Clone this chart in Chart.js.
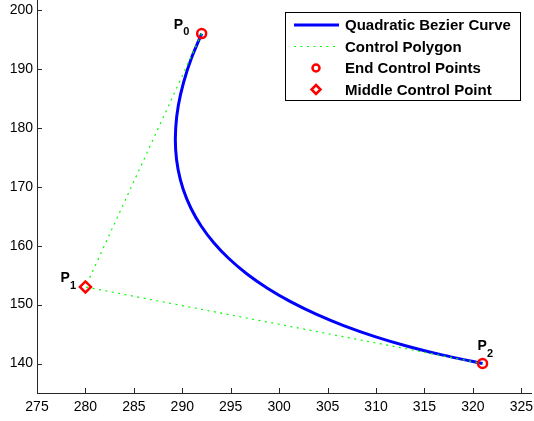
<!DOCTYPE html>
<html>
<head>
<meta charset="utf-8">
<script src="https://cdn.jsdelivr.net/npm/chart.js@4/dist/chart.umd.min.js"></script>
<style>
  body { margin: 0; background: #fff; }
  canvas { display: block; }
</style>
</head>
<body>
<canvas id="bezier" width="534" height="421"></canvas>
<script>
// points
var curveX = [292, 290.93, 290.13, 289.59, 289.32, 289.31, 289.57, 290.09, 290.88, 291.93, 293.25,
              294.83, 296.68, 298.79, 301.17, 303.81, 306.72, 309.89, 313.33, 317.03, 321];
var curveY = [196, 191.78, 187.7, 183.78, 180.0, 176.38, 172.9, 169.58, 166.4, 163.38, 160.5,
              157.78, 155.2, 152.78, 150.5, 148.38, 146.4, 144.58, 142.9, 141.38, 140];

// control points P0, P1, P2
var ctrlX = [292, 280, 321];
var ctrlY = [196, 153, 140];
var ctrlNames = ['0', '1', '2'];

var seriesLabels = ['Quadratic Bezier Curve', 'Control Polygon', 'End Control Points', 'Middle Control Point'];

var xTicks = [275, 280, 285, 290, 295, 300, 305, 310, 315, 320, 325];
var yTicks = [140, 150, 160, 170, 180, 190, 200];

function toPoints(xs, ys) {
    var pts = [];
    for (var i = 0; i < xs.length; i++) pts.push({ x: xs[i], y: ys[i] });
    return pts;
}

var BLUE = 'rgb(0,0,255)', GREEN = 'rgb(0,255,0)', RED = 'rgb(255,0,0)', AXIS = '#262626';
var FONT = '"Liberation Sans", Arial, Helvetica, sans-serif';

// label offsets (px) of "P" and its subscript from each control point
var labelOffsets = [
    { px: -28, py: -5, sx: -18.5, sy: 1.8 },
    { px: -25, py: -5.4, sx: -15.5, sy: 1.6 },
    { px: -5, py: -13.3, sx: 4.5, sy: -6.4 }
];

var extrasPlugin = {
    id: 'extras',
    afterDatasetsDraw: function(chart) {
        var ctx = chart.ctx, xs = chart.scales.x, ys = chart.scales.y, area = chart.chartArea;
        ctx.save();
        // inward ticks
        ctx.strokeStyle = AXIS;
        ctx.lineWidth = 1;
        ctx.beginPath();
        xTicks.forEach(function(v) {
            var px = Math.round(xs.getPixelForValue(v)) + 0.5;
            ctx.moveTo(px, area.bottom);
            ctx.lineTo(px, area.bottom - 5);
        });
        yTicks.forEach(function(v) {
            var py = Math.round(ys.getPixelForValue(v)) + 0.5;
            ctx.moveTo(area.left, py);
            ctx.lineTo(area.left + 5, py);
        });
        ctx.stroke();

        // P0, P1, P2 labels
        ctx.fillStyle = '#000';
        ctx.textBaseline = 'alphabetic';
        ctx.textAlign = 'left';
        for (var i = 0; i < ctrlX.length; i++) {
            var cx = xs.getPixelForValue(ctrlX[i]), cy = ys.getPixelForValue(ctrlY[i]);
            var o = labelOffsets[i];
            ctx.font = 'bold 14px ' + FONT;
            ctx.fillText('P', cx + o.px, cy + o.py);
            ctx.font = 'bold 11px ' + FONT;
            ctx.fillText(ctrlNames[i], cx + o.sx, cy + o.sy);
        }

        // legend box
        var bx = 285.5, by = 12.5, bw = 235, bh = 88;
        ctx.fillStyle = '#fff';
        ctx.fillRect(bx, by, bw, bh);
        ctx.strokeStyle = '#000';
        ctx.lineWidth = 1;
        ctx.strokeRect(bx, by, bw, bh);
        var rows = [30, 51.5, 73, 94.5];
        ctx.font = 'bold 15px ' + FONT;
        for (var r = 0; r < seriesLabels.length; r++) {
            var yy = rows[r] - 5;
            ctx.save();
            if (r === 0) {
                ctx.strokeStyle = BLUE; ctx.lineWidth = 3;
                ctx.beginPath(); ctx.moveTo(294, yy); ctx.lineTo(339, yy); ctx.stroke();
            } else if (r === 1) {
                ctx.strokeStyle = GREEN; ctx.lineWidth = 1.2; ctx.setLineDash([2, 4.5]);
                ctx.beginPath(); ctx.moveTo(294, yy); ctx.lineTo(339, yy); ctx.stroke();
            } else if (r === 2) {
                ctx.strokeStyle = RED; ctx.lineWidth = 2.5;
                ctx.beginPath(); ctx.arc(316, yy, 3.5, 0, Math.PI * 2); ctx.stroke();
            } else {
                ctx.strokeStyle = RED; ctx.lineWidth = 2.5;
                ctx.beginPath();
                ctx.moveTo(316, yy - 4.5); ctx.lineTo(320.5, yy); ctx.lineTo(316, yy + 4.5); ctx.lineTo(311.5, yy);
                ctx.closePath(); ctx.stroke();
            }
            ctx.restore();
            ctx.fillStyle = '#000';
            ctx.fillText(seriesLabels[r], 345, rows[r]);
        }
        ctx.restore();
    }
};

function noPadding(s) {
    s.paddingLeft = 0; s.paddingRight = 0; s.paddingTop = 0; s.paddingBottom = 0;
}

var ctx = document.getElementById('bezier').getContext('2d');
var chart = new Chart(ctx, {
    type: 'scatter',
    data: {
        datasets: [
            { label: seriesLabels[2], data: toPoints([ctrlX[0], ctrlX[2]], [ctrlY[0], ctrlY[2]]), order: 0,
              pointStyle: 'circle', pointRadius: 4.5, pointBorderWidth: 2.5, borderColor: RED,
              backgroundColor: 'rgba(0,0,0,0)', showLine: false },
            { label: seriesLabels[3], data: toPoints([ctrlX[1]], [ctrlY[1]]), order: 0,
              pointStyle: 'rectRot', pointRadius: 5.5, pointBorderWidth: 2.5, borderColor: RED,
              backgroundColor: 'rgba(0,0,0,0)', showLine: false },
            { label: seriesLabels[1], data: toPoints(ctrlX, ctrlY), order: 1,
              showLine: true, borderColor: GREEN, borderWidth: 1.2, borderDash: [2, 4.5], pointRadius: 0, fill: false },
            { label: seriesLabels[0], data: toPoints(curveX, curveY), order: 2,
              showLine: true, borderColor: BLUE, borderWidth: 3, pointRadius: 0, tension: 0.2, fill: false }
        ]
    },
    options: {
        responsive: false,
        animation: false,
        events: [],
        layout: { autoPadding: false, padding: { left: 0, right: 3, top: 0, bottom: 0 } },
        plugins: { legend: { display: false }, tooltip: { enabled: false } },
        scales: {
            x: {
                type: 'linear', min: 275, max: 326,
                afterFit: function(s) { s.height = 28; noPadding(s); },
                afterBuildTicks: function(s) { s.ticks = xTicks.map(function(v) { return { value: v }; }); },
                ticks: { autoSkip: false, maxRotation: 0, padding: 6, color: '#000', font: { family: FONT, size: 14 } },
                grid: { display: true, drawOnChartArea: false, drawTicks: false },
                border: { display: true, color: AXIS, width: 1 }
            },
            y: {
                type: 'linear', min: 135, max: 201.7,
                afterFit: function(s) { s.width = 37; noPadding(s); },
                afterBuildTicks: function(s) { s.ticks = yTicks.map(function(v) { return { value: v }; }); },
                ticks: { autoSkip: false, padding: 4, color: '#000', font: { family: FONT, size: 14 } },
                grid: { display: true, drawOnChartArea: false, drawTicks: false },
                border: { display: true, color: AXIS, width: 1 }
            }
        }
    },
    plugins: [extrasPlugin]
});
</script>
</body>
</html>
